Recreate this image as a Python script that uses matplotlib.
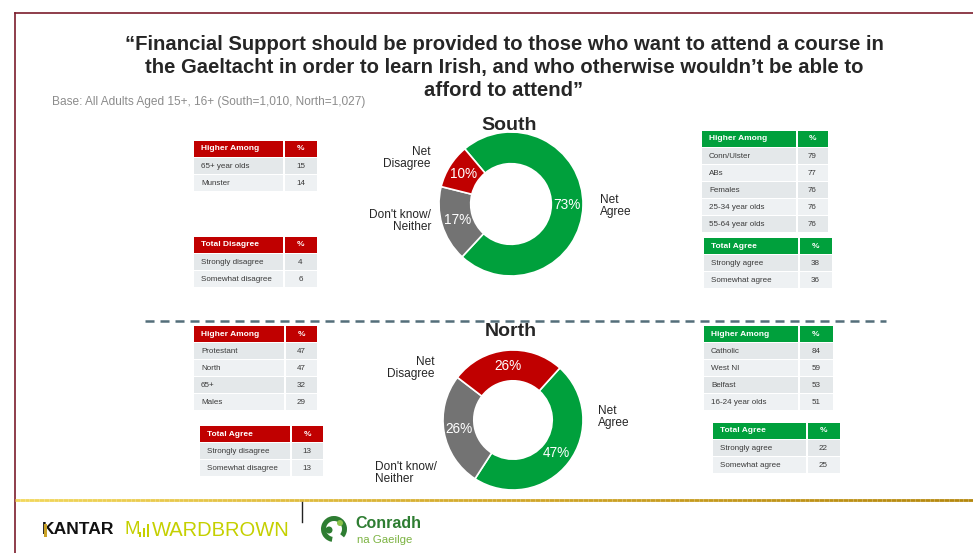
import matplotlib
matplotlib.use("Agg")
import matplotlib.pyplot as plt
import numpy as np
from matplotlib.patches import Rectangle, Circle, Wedge
from matplotlib.collections import LineCollection
from matplotlib.colors import LinearSegmentedColormap

plt.rcParams['font.family'] = ['Liberation Sans', 'DejaVu Sans']
plt.rcParams['lines.scale_dashes'] = False

RED = '#c00000'
GREEN = '#00a03c'
GREY = '#737373'

# ---- data ----
segments = ['Net Agree', "Don't know/ Neither", 'Net Disagree']
south_vals = [73, 17, 10]
north_vals = [47, 26, 26]

s_hi_left_labels = ['65+ year olds', 'Munster']
s_hi_left_vals = [15, 14]
s_dis_labels = ['Strongly disagree', 'Somewhat disagree']
s_dis_vals = [4, 6]
s_hi_right_labels = ['Conn/Ulster', 'ABs', 'Females', '25-34 year olds', '55-64 year olds']
s_hi_right_vals = [79, 77, 76, 76, 76]
s_agree_labels = ['Strongly agree', 'Somewhat agree']
s_agree_vals = [38, 36]

n_hi_left_labels = ['Protestant', 'North', '65+', 'Males']
n_hi_left_vals = [47, 47, 32, 29]
n_tot_left_labels = ['Strongly disagree', 'Somewhat disagree']
n_tot_left_vals = [13, 13]
n_hi_right_labels = ['Catholic', 'West NI', 'Belfast', '16-24 year olds']
n_hi_right_vals = [84, 59, 53, 51]
n_agree_labels = ['Strongly agree', 'Somewhat agree']
n_agree_vals = [22, 25]

title_lines = ["\u201cFinancial Support should be provided to those who want to attend a course in",
               "the Gaeltacht in order to learn Irish, and who otherwise wouldn\u2019t be able to",
               "afford to attend\u201d"]

W, H = 973, 553
fig = plt.figure(figsize=(W / 100, H / 100), dpi=100)
ax = fig.add_axes([0, 0, 1, 1])
ax.set_xlim(0, W)
ax.set_ylim(H, 0)
ax.axis('off')

# frame lines
ax.plot([15, W], [13, 13], color='#7b1c2c', lw=1.2)
ax.plot([15, 15], [13, H], color='#7b1c2c', lw=1.2)
xs = np.linspace(15, W, 200)
segs = [[(xs[i], 500), (xs[i + 1], 500)] for i in range(len(xs) - 1)]
gold = LinearSegmentedColormap.from_list('gold', ['#f2d75a', '#d2a82a', '#b4870c'])
ax.add_collection(LineCollection(segs, colors=gold(np.linspace(0, 1, len(segs))), lw=2))

# title, one line at a time
for i, line in enumerate(title_lines):
    ax.text(504, 44 + 23 * i, line, ha='center', va='center', fontsize=14.6,
            fontweight='bold', color='#262626')
ax.text(52, 102, 'Base: All Adults Aged 15+, 16+ (South=1,010, North=1,027)', ha='left', va='center',
        fontsize=8.6, color='#8c8c8c')

# separator
ax.plot([145, 886], [321, 321], color='#546e7a', lw=1.8, dashes=(6.5, 4.3))


def table(x0, y0, w, split, header, labels, vals, hcolor):
    hh, rh = 16, 17
    ax.add_patch(Rectangle((x0, y0), split - x0 - 1, hh, color=hcolor, lw=0))
    ax.add_patch(Rectangle((split + 1, y0), x0 + w - split - 1, hh, color=hcolor, lw=0))
    ax.text(x0 + 7, y0 + hh / 2, header, color='white', fontsize=6, fontweight='bold', va='center')
    ax.text((split + x0 + w) / 2, y0 + hh / 2, '%', color='white', fontsize=6, fontweight='bold',
            va='center', ha='center')
    for i, (lab, v) in enumerate(zip(labels, vals)):
        y = y0 + hh + 1 + i * rh
        bg = '#e4e8ea' if i % 2 == 0 else '#eef1f3'
        ax.add_patch(Rectangle((x0, y), split - x0 - 1, rh - 1, color=bg, lw=0))
        ax.add_patch(Rectangle((split + 1, y), x0 + w - split - 1, rh - 1, color=bg, lw=0))
        ax.text(x0 + 7, y + rh / 2, lab, color='#3a3a3a', fontsize=5.8, va='center')
        ax.text((split + x0 + w) / 2, y + rh / 2, str(v), color='#3a3a3a', fontsize=5.8,
                va='center', ha='center')


table(194, 141, 123, 284, 'Higher Among', s_hi_left_labels, s_hi_left_vals, RED)
table(194, 237, 123, 284, 'Total Disagree', s_dis_labels, s_dis_vals, RED)
table(702, 131, 126, 797, 'Higher Among', s_hi_right_labels, s_hi_right_vals, GREEN)
table(704, 238, 128, 799, 'Total Agree', s_agree_labels, s_agree_vals, GREEN)
table(194, 326, 123, 285, 'Higher Among', n_hi_left_labels, n_hi_left_vals, RED)
table(200, 426, 123, 291, 'Total Agree', n_tot_left_labels, n_tot_left_vals, RED)
table(704, 326, 129, 799, 'Higher Among', n_hi_right_labels, n_hi_right_vals, GREEN)
table(713, 423, 127, 807, 'Total Agree', n_agree_labels, n_agree_vals, GREEN)


def donut(cx, cy, r, vals, start, pct_r):
    a = fig.add_axes([(cx - r) / W, 1 - (cy + r) / H, 2 * r / W, 2 * r / H])
    a.pie(vals, colors=[GREEN, GREY, RED], startangle=start, counterclock=False,
          radius=1, wedgeprops=dict(width=0.44, edgecolor='white', linewidth=1.2))
    a.set_xlim(-1, 1)
    a.set_ylim(-1, 1)
    a.set_aspect('equal')
    a.axis('off')
    total = sum(vals)
    ang = start
    for v in vals:
        mid = np.deg2rad(ang - 180 * v / total)
        a.text(pct_r * np.cos(mid), pct_r * np.sin(mid), f'{v}%', ha='center', va='center',
               color='white', fontsize=9.8)
        ang -= 360 * v / total
    return a


donut(511, 204, 72, south_vals, 130, 0.78)
donut(513, 420, 70, north_vals, 48, 0.78)

ax.text(509, 125, 'South', ha='center', va='center', fontsize=14, fontweight='bold', color='#262626')
ax.text(511, 332, 'North', ha='center', va='center', fontsize=14, fontweight='bold', color='#262626')

lab = dict(fontsize=8.6, color='#262626', va='center', linespacing=1.05)
ax.text(600, 206, 'Net\nAgree', ha='left', **lab)
ax.text(431, 158, 'Net\nDisagree', ha='right', multialignment='right', **lab)
ax.text(431, 221, "Don't know/\nNeither", ha='right', multialignment='right', **lab)
ax.text(598, 417, 'Net\nAgree', ha='left', **lab)
ax.text(435, 368, 'Net\nDisagree', ha='right', multialignment='right', **lab)
ax.text(375, 473, "Don't know/\nNeither", ha='left', **lab)

# footer logos
ax.text(42, 530, 'KANTAR', fontsize=12.6, fontweight='bold', color='#111111', va='center', ha='left')
ax.add_patch(Rectangle((44, 523.5), 3, 13, color='#c9a227', lw=0, zorder=4))
ax.text(125, 530, 'M', fontsize=13.5, color='#c5d000', va='center', ha='left')
for i, hb in enumerate([5, 9, 13]):
    ax.add_patch(Rectangle((139 + i * 4, 537 - hb), 2, hb, color='#c5d000', lw=0))
ax.text(152, 530, 'WARDBROWN', fontsize=14.5, color='#c5d000', va='center', ha='left')
ax.plot([302, 302], [502, 522], color='#222222', lw=1)

ax.add_patch(Wedge((334, 529), 13, 100, 400, width=5, color='#2e7d32', lw=0))
ax.add_patch(Circle((329, 530), 3.5, color='#2e7d32', lw=0))
ax.add_patch(Circle((340, 523), 3, color='#8bc34a', lw=0))
ax.text(355, 523, 'Conradh', fontsize=11.5, fontweight='bold', color='#2e7d32', va='center', ha='left')
ax.text(357, 540, 'na Gaeilge', fontsize=8.2, color='#7cb342', va='center', ha='left')

fig.savefig('out.png', dpi=100)
